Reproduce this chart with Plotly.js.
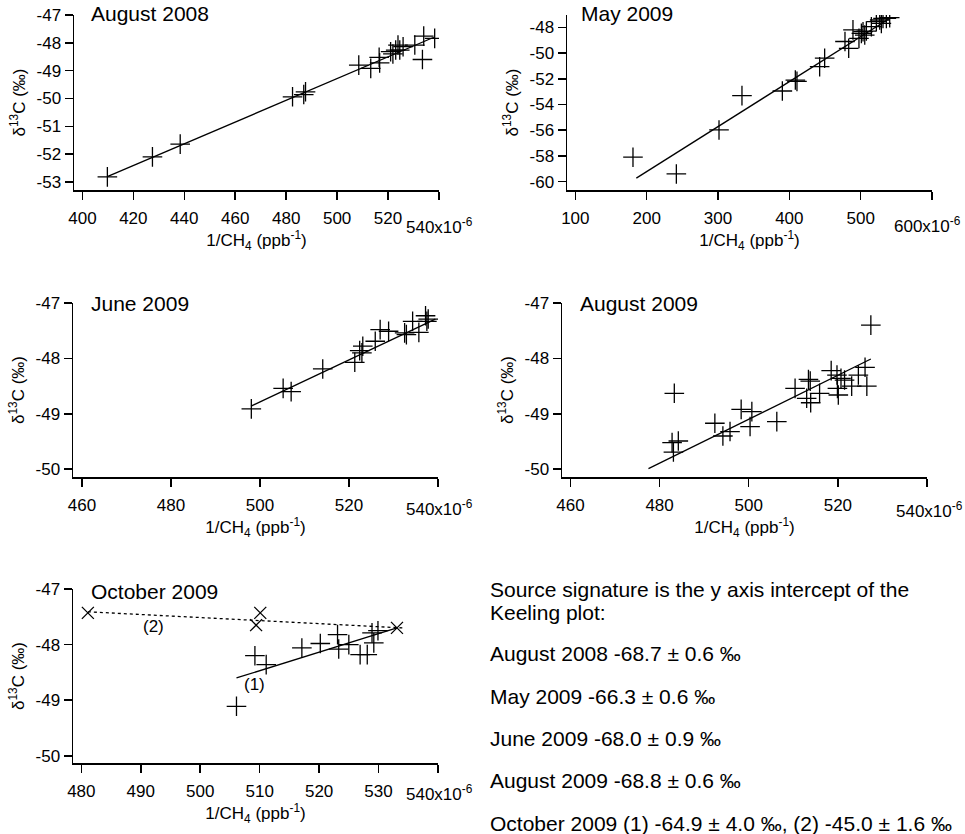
<!DOCTYPE html>
<html>
<head>
<meta charset="utf-8">
<script src="https://cdn.plot.ly/plotly-3.0.1.min.js"></script>
<style>
  html, body { margin: 0; padding: 0; background: #fff; }
  #chart { width: 965px; height: 834px; }
</style>
</head>
<body>
<div id="chart"></div>
<script>
/* Keeling plots: d13C vs 1/CH4, five campaigns. x values in units of 1e-6 ppb^-1. */

const aug08X = [409.8, 427.5, 438.4, 482.5, 486.9, 487.6, 508.5, 513.2, 516.5, 516.7, 521.0, 521.9, 523.0, 523.9, 524.6, 525.9, 530.5, 534.0, 533.5, 538.3];
const aug08Y = [-52.82, -52.1, -51.64, -49.94, -49.86, -49.76, -48.8, -48.92, -48.52, -48.72, -48.32, -48.4, -48.26, -48.08, -48.26, -48.14, -48.08, -47.76, -48.6, -47.84];
const aug08FitX = [410, 538];
const aug08FitY = [-52.8, -47.8];

const may09X = [180.8, 241.6, 301.4, 333.6, 390.2, 408.4, 410.7, 442.5, 449.5, 478.0, 483.2, 489.2, 497.6, 501.0, 503.3, 505.7, 508.0, 515.0, 522.0, 526.7, 529.0, 531.3, 536.0, 540.7];
const may09Y = [-58.1, -59.4, -55.98, -53.31, -52.95, -52.1, -52.2, -51.06, -50.4, -49.1, -49.63, -48.2, -48.86, -48.47, -48.34, -48.6, -48.29, -47.95, -47.56, -47.43, -47.69, -47.3, -47.3, -47.25];
const may09FitX = [185.5, 542];
const may09FitY = [-59.73, -47.25];

const jun09X = [498.05, 505.2, 507.0, 514.1, 521.3, 522.4, 523.1, 522.9, 525.9, 527.0, 528.9, 532.5, 532.9, 534.3, 535.7, 537.2, 537.8, 537.5];
const jun09Y = [-48.91, -48.54, -48.6, -48.19, -48.07, -47.86, -47.78, -47.9, -47.69, -47.48, -47.51, -47.54, -47.57, -47.33, -47.53, -47.23, -47.29, -47.33];
const jun09FitX = [498, 539.4];
const jun09FitY = [-48.86, -47.29];

const aug09X = [483.3, 482.8, 484.2, 483.1, 492.4, 494.2, 495.8, 498.3, 500.3, 500.7, 506.3, 510.4, 513.4, 513.8, 513.0, 513.9, 515.9, 518.5, 519.8, 519.9, 520.1, 520.7, 521.5, 523.1, 524.6, 526.1, 526.5, 527.4];
const aug09Y = [-48.63, -49.52, -49.49, -49.69, -49.17, -49.4, -49.32, -48.92, -49.23, -48.96, -49.14, -48.54, -48.38, -48.41, -48.72, -48.8, -48.63, -48.22, -48.3, -48.54, -48.66, -48.36, -48.39, -48.5, -48.3, -48.16, -48.5, -47.4];
const aug09FitX = [477.5, 527.4];
const aug09FitY = [-49.99, -48.01];

const oct09X = [506.1, 509.2, 511.1, 517.1, 520.2, 523.1, 523.3, 525.0, 526.9, 528.1, 529.2, 528.9, 529.9];
const oct09Y = [-49.11, -48.2, -48.36, -48.06, -47.98, -47.82, -48.08, -48.0, -48.18, -48.18, -47.97, -47.79, -47.75];
const oct09CrossX = [481.1, 510.1, 509.4, 533.1];
const oct09CrossY = [-47.43, -47.43, -47.65, -47.7];
const oct09Fit1X = [506.1, 533.1];
const oct09Fit1Y = [-48.6, -47.7];
const oct09Fit2X = [481.1, 534.0];
const oct09Fit2Y = [-47.41, -47.7];

const panelTitles = ["August 2008", "May 2009", "June 2009", "August 2009", "October 2009"];

const sourceLines = [
  "Source signature is the y axis intercept of the",
  "Keeling plot:",
  "August 2008 -68.7 ± 0.6 ‰",
  "May 2009 -66.3 ± 0.6 ‰",
  "June 2009 -68.0 ± 0.9 ‰",
  "August 2009 -68.8 ± 0.6 ‰",
  "October 2009 (1) -64.9 ± 4.0 ‰, (2) -45.0 ± 1.6 ‰",
];

const W = 965, H = 834;
const FONT = "Liberation Sans, Arial, sans-serif";

// plot boxes in pixels: [left, right, top, bottom]
const BOXES = [
  [74, 439, 15, 190],
  [567, 932, 15, 190],
  [73, 438, 303, 477],
  [562, 927, 303, 477],
  [73, 438, 589, 763],
];

// Igor-style "NNNx10^-6" label after the last x tick, a little lower than the rest
const EXP_POS = [
  { x: 439, y: 226, anchor: "center" },
  { x: 963, y: 225, anchor: "right" },
  { x: 439, y: 508, anchor: "center" },
  { x: 929, y: 510, anchor: "center" },
  { x: 439, y: 793, anchor: "center" },
];

function dom(box) {
  return {
    x: [box[0] / W, box[1] / W],
    y: [1 - box[3] / H, 1 - box[2] / H],
  };
}

function xAxis(i, range, vals) {
  const d = dom(BOXES[i]);
  const text = vals.map(String);
  text[text.length - 1] = "";
  return {
    domain: d.x, range, anchor: i === 0 ? "y" : "y" + (i + 1),
    showline: true, linecolor: "#000", linewidth: 1.5, mirror: false,
    showgrid: false, zeroline: false,
    ticks: "outside", ticklen: 8, tickwidth: 1.5, tickcolor: "#000",
    ticklabelstandoff: 4,
    tickmode: "array", tickvals: vals, ticktext: text,
    tickfont: { size: 17, color: "#000" },
    title: { text: "1/CH<sub>4</sub> (ppb<sup>-1</sup>)", font: { size: 17, color: "#000" }, standoff: 7 },
  };
}

function yAxis(i, range, vals) {
  const d = dom(BOXES[i]);
  return {
    domain: d.y, range, anchor: i === 0 ? "x" : "x" + (i + 1),
    showline: true, linecolor: "#000", linewidth: 1.5,
    showgrid: false, zeroline: false,
    ticks: "outside", ticklen: 8, tickwidth: 1.5, tickcolor: "#000",
    tickmode: "array", tickvals: vals, ticktext: vals.map(String),
    tickfont: { size: 17, color: "#000" },
    title: { text: "δ<sup>13</sup>C (‰)", font: { size: 17, color: "#000" }, standoff: 6 },
  };
}

function pts(x, y, i, symbol, size) {
  return {
    x, y, xaxis: i === 0 ? "x" : "x" + (i + 1), yaxis: i === 0 ? "y" : "y" + (i + 1),
    type: "scatter", mode: "markers", hoverinfo: "skip",
    marker: { symbol: symbol || "cross-thin-open", size: size || 14, color: "#000", line: { color: "#000", width: 1.3 } },
  };
}

function fit(x, y, i, dash) {
  return {
    x, y, xaxis: i === 0 ? "x" : "x" + (i + 1), yaxis: i === 0 ? "y" : "y" + (i + 1),
    type: "scatter", mode: "lines", hoverinfo: "skip",
    line: { color: "#000", width: 1.3, dash: dash || "solid" },
  };
}

const traces = [
  fit(aug08FitX, aug08FitY, 0), pts(aug08X, aug08Y, 0),
  fit(may09FitX, may09FitY, 1), pts(may09X, may09Y, 1),
  fit(jun09FitX, jun09FitY, 2), pts(jun09X, jun09Y, 2),
  fit(aug09FitX, aug09FitY, 3), pts(aug09X, aug09Y, 3),
  fit(oct09Fit1X, oct09Fit1Y, 4), fit(oct09Fit2X, oct09Fit2Y, 4, "dot"),
  pts(oct09X, oct09Y, 4), pts(oct09CrossX, oct09CrossY, 4, "x-thin-open", 12),
];

const titleY = [13, 13, 304, 304, 591];
const titleX = [89, 579, 89, 578, 89];
const annotations = panelTitles.map((t, i) => ({
  text: t, xref: "paper", yref: "paper", x: titleX[i] / W, y: 1 - titleY[i] / H,
  xanchor: "left", yanchor: "middle", showarrow: false, font: { size: 21, color: "#000" },
}));

const lastTicks = [540, 600, 540, 540, 540];
EXP_POS.forEach((p, i) => annotations.push({
  text: lastTicks[i] + "x10<sup>-6</sup>", xref: "paper", yref: "paper",
  x: p.x / W, y: 1 - p.y / H, xanchor: p.anchor, yanchor: "middle",
  showarrow: false, font: { size: 17, color: "#000" },
}));

annotations.push(
  { text: "(1)", xref: "x5", yref: "y5", x: 509.1, y: -48.72, showarrow: false, font: { size: 17, color: "#000" } },
  { text: "(2)", xref: "x5", yref: "y5", x: 492.1, y: -47.67, showarrow: false, font: { size: 17, color: "#000" } }
);

const lineY = [589, 612, 653, 696, 738, 780, 823];
sourceLines.forEach((t, k) => annotations.push({
  text: t, xref: "paper", yref: "paper", x: 488 / W, y: 1 - lineY[k] / H,
  xanchor: "left", yanchor: "middle", align: "left", showarrow: false,
  font: { size: 21, color: "#000" },
}));

const layout = {
  width: W, height: H,
  margin: { l: 0, r: 0, t: 0, b: 0 },
  paper_bgcolor: "#fff", plot_bgcolor: "#fff",
  font: { family: FONT, color: "#000" },
  showlegend: false,
  xaxis: xAxis(0, [396.7, 540], [400, 420, 440, 460, 480, 500, 520, 540]),
  yaxis: yAxis(0, [-53.29, -47], [-47, -48, -49, -50, -51, -52, -53]),
  xaxis2: xAxis(1, [88.3, 600], [100, 200, 300, 400, 500, 600]),
  yaxis2: yAxis(1, [-60.65, -47.04], [-48, -50, -52, -54, -56, -58, -60]),
  xaxis3: xAxis(2, [457.98, 540], [460, 480, 500, 520, 540]),
  yaxis3: yAxis(2, [-50.14, -47], [-47, -48, -49, -50]),
  xaxis4: xAxis(3, [458.1, 540], [460, 480, 500, 520, 540]),
  yaxis4: yAxis(3, [-50.14, -47], [-47, -48, -49, -50]),
  xaxis5: xAxis(4, [478.6, 540], [480, 490, 500, 510, 520, 530, 540]),
  yaxis5: yAxis(4, [-50.13, -47], [-47, -48, -49, -50]),
  annotations,
};

Plotly.newPlot("chart", traces, layout, { displayModeBar: false, staticPlot: true });
</script>
</body>
</html>
